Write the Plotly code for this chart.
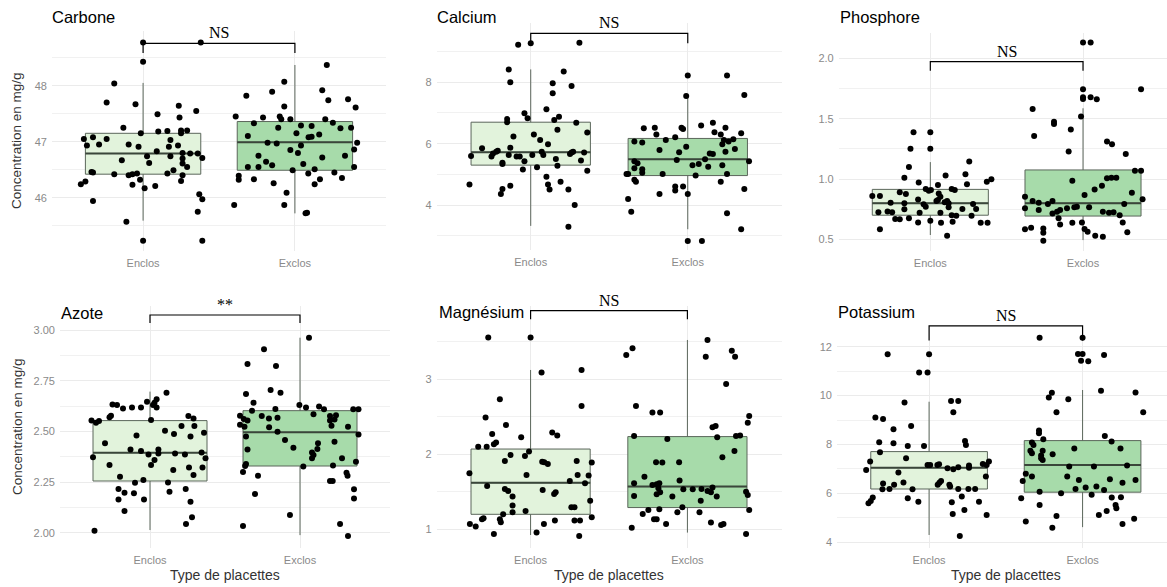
import plotly.graph_objects as go

# ---------------- DATA ----------------
categories = ["Enclos", "Exclos"]
panel_titles = ["Carbone", "Calcium", "Phosphore", "Azote", "Magnésium", "Potassium"]
sig_labels = ["NS", "NS", "NS", "**", "NS", "NS"]
bracket_y = [48.757, 9.597, 1.972, 3.074, 3.915, 12.85]
bracket_tip = [48.584, 9.27, 1.897, 3.035, 3.80, 12.25]

# box statistics [Enclos, Exclos]
carbone_q1 = [46.42, 46.49]; carbone_med = [46.79, 46.99]; carbone_q3 = [47.15, 47.36]
carbone_lo = [45.59, 45.72]; carbone_hi = [48.05, 48.37]
calcium_q1 = [5.30, 4.96]; calcium_med = [5.72, 5.49]; calcium_q3 = [6.70, 6.17]
calcium_lo = [3.32, 3.21]; calcium_hi = [8.42, 7.55]
phosphore_q1 = [0.70, 0.693]; phosphore_med = [0.80, 0.80]; phosphore_q3 = [0.914, 1.075]
phosphore_lo = [0.536, 0.494]; phosphore_hi = [1.14, 1.586]
azote_q1 = [2.255, 2.329]; azote_med = [2.395, 2.495]; azote_q3 = [2.553, 2.602]
azote_lo = [2.013, 1.988]; azote_hi = [2.696, 2.962]
magnesium_q1 = [1.2, 1.29]; magnesium_med = [1.62, 1.569]; magnesium_q3 = [2.07, 2.236]
magnesium_lo = [0.924, 0.956]; magnesium_hi = [3.124, 3.524]
potassium_q1 = [6.18, 6.05]; potassium_med = [7.05, 7.16]; potassium_q3 = [7.71, 8.16]
potassium_lo = [4.30, 4.62]; potassium_hi = [9.75, 10.23]

# jittered observations (value, horizontal jitter in category units)
carbone_enclos_y = [48.77,48.77,48.43,48.04,47.70,47.67,47.64,47.55,47.49,47.43,47.25,47.15,47.18,47.19,47.20,47.20,47.15,47.05,47.08,47.05,46.93,46.95,46.95,46.91,47.03,46.93,46.83,46.74,46.62,46.67,46.91,46.74,46.80,46.79,46.79,46.71,46.70,46.61,46.55,46.46,46.45,46.42,46.40,46.42,46.43,46.43,46.49,46.40,46.30,46.24,46.29,46.23,46.32,46.17,46.21,46.06,45.97,45.94,45.75,45.57,45.23,45.23]
carbone_enclos_jit = [0,0.38,0,-0.19,-0.24,-0.05,0.235,0.35,0.095,0.24,-0.13,-0.015,0.10,0.16,0.25,0.29,0.25,-0.39,-0.33,-0.24,-0.37,-0.29,-0.095,-0.03,0.18,0.23,0.09,0.026,0.04,-0.14,0.17,0.18,0.26,0.31,0.36,0.39,0.26,0.26,0.29,-0.34,-0.33,-0.19,-0.095,-0.07,-0.04,0.16,0.20,0.26,0.25,-0.41,-0.38,-0.07,-0.02,0.01,0.08,0.37,0.39,-0.33,0.36,-0.11,0,0.39]
carbone_exclos_y = [48.37,48.07,47.92,47.82,47.89,47.74,47.76,47.61,47.63,47.45,47.43,47.45,47.40,47.40,47.33,47.29,47.28,47.40,47.34,47.25,47.24,47.25,47.10,47.15,47.13,47.08,47.09,46.98,46.97,46.93,46.98,46.86,46.85,46.80,46.75,46.72,46.75,46.64,46.55,46.55,46.58,46.60,46.55,46.49,46.51,46.43,46.45,46.39,46.32,46.33,46.33,46.35,46.26,46.24,46.09,45.87,45.87,45.72,45.73]
carbone_exclos_jit = [0.21,-0.07,0.18,-0.32,-0.15,0.22,0.35,0.40,-0.07,-0.39,-0.21,-0.10,-0.09,-0.03,-0.27,0.04,0.11,0.20,0.25,0.37,0.30,-0.11,-0.31,0.01,0.16,0.09,0.11,-0.18,-0.12,0.04,0.41,0.39,-0.03,0.02,-0.24,0.18,0.33,-0.19,-0.31,-0.24,-0.15,0.055,0.39,-0.015,0.13,0.088,0.26,-0.37,-0.37,-0.27,0.165,0.31,-0.14,0.13,-0.055,-0.40,-0.07,0.07,0.08]

calcium_enclos_y = [9.22,9.27,9.29,8.42,8.35,8.00,7.97,7.88,7.64,7.12,6.99,6.80,6.70,6.83,6.77,6.88,6.68,6.45,6.23,6.30,6.36,6.12,5.98,5.85,5.87,5.74,5.68,5.58,5.77,5.63,5.60,5.58,5.58,5.74,5.63,5.63,5.71,5.74,5.66,5.71,5.50,5.43,5.45,5.38,5.34,5.16,5.23,5.28,5.12,4.92,4.67,4.63,4.67,4.76,4.52,4.36,4.51,4.51,4.00,3.29]
calcium_enclos_jit = [-0.08,0,0.31,-0.14,0.21,-0.13,0.14,0.26,0.14,0.10,-0.04,-0.15,-0.15,-0.02,0.15,0.18,0.29,0.17,-0.11,0.02,0.36,0.06,0.11,-0.31,-0.13,-0.22,-0.24,-0.25,-0.21,-0.14,-0.38,-0.09,-0.07,0.07,0.01,0.08,0.26,0.27,0.25,0.34,0.16,-0.04,0.32,-0.18,-0.18,-0.05,0.04,0.17,0.36,0.10,-0.39,-0.13,0.11,0.19,-0.18,-0.19,0.12,0.24,0.28,0.24]
calcium_exclos_y = [8.22,8.22,7.55,7.59,6.50,6.52,6.30,6.52,6.48,6.59,6.68,6.37,6.30,6.52,6.34,6.12,6.21,6.07,6.04,5.90,6.12,6.07,6.14,5.98,5.79,5.72,5.74,5.83,5.68,5.66,5.49,5.47,5.43,5.36,5.43,5.30,5.34,5.25,5.30,5.20,5.17,5.05,5.01,5.01,5.01,4.96,5.01,4.82,4.76,4.76,4.60,4.60,4.47,4.52,4.36,4.36,4.20,3.78,3.73,3.21,2.83,2.83]
calcium_exclos_jit = [0,0.25,-0.01,0.36,-0.28,-0.21,-0.20,-0.04,-0.03,0.085,0.16,0.17,0.21,0.24,0.34,-0.14,-0.08,-0.34,-0.29,-0.01,0.23,0.26,0.29,0.22,-0.18,-0.055,0.24,0.30,0.14,0.16,0.11,-0.07,-0.34,-0.32,0.39,0.03,0.07,0.13,0.22,-0.34,-0.29,-0.29,-0.39,-0.38,-0.16,0.05,0.25,-0.34,-0.33,0.21,-0.08,-0.03,-0.08,0.36,-0.18,0,-0.38,-0.36,0.25,0.34,0,0.09]

phosphore_enclos_y = [1.387,1.387,1.25,1.25,1.144,1.10,1.011,1.028,1.039,0.97,0.978,0.997,0.956,0.95,0.917,0.903,0.909,0.917,0.909,0.89,0.876,0.86,0.86,0.88,0.853,0.831,0.826,0.818,0.807,0.818,0.80,0.804,0.80,0.79,0.77,0.765,0.793,0.751,0.751,0.724,0.73,0.724,0.749,0.72,0.72,0.70,0.696,0.696,0.668,0.666,0.674,0.655,0.638,0.646,0.64,0.638,0.638,0.583,0.53]
phosphore_enclos_jit = [-0.11,0,-0.13,0,0.255,-0.14,-0.17,0.10,0.23,-0.076,0.37,0.40,0.24,0.05,-0.03,-0.01,0.004,0.14,0.16,-0.20,-0.16,-0.38,-0.33,0.055,0.066,-0.08,0.05,0.11,0.094,0.04,0.12,-0.26,-0.17,-0.044,-0.03,0.12,0.28,0.21,0.30,-0.34,-0.28,-0.25,-0.17,-0.07,0.066,0.14,0.17,0.27,-0.23,-0.20,-0.14,0,0.07,0.146,-0.08,0.33,0.375,-0.33,0.11]
phosphore_exclos_y = [2.13,2.13,1.743,1.743,1.677,1.663,1.677,1.66,1.58,1.517,1.475,1.456,1.41,1.356,1.31,1.287,1.227,1.207,1.069,1.069,1.006,1.011,1.011,0.986,0.945,0.914,0.887,0.867,0.853,0.832,0.818,0.804,0.818,0.793,0.793,0.757,0.743,0.729,0.743,0.757,0.765,0.771,0.765,0.715,0.729,0.72,0.724,0.70,0.674,0.624,0.638,0.64,0.64,0.583,0.597,0.59,0.586,0.564,0.558,0.555,0.53,0.522,0.489]
phosphore_exclos_jit = [0,0.05,0,0.38,0,0,0.05,0.09,-0.33,-0.013,-0.19,-0.19,-0.08,-0.32,0.157,0.19,-0.094,0.28,0.34,0.38,0.157,0.186,0.218,-0.07,0.124,0.076,0.32,0.01,-0.38,0.39,-0.33,-0.29,-0.20,-0.23,0.27,-0.38,-0.29,-0.17,-0.15,-0.105,-0.057,-0.04,0.04,-0.20,0.13,0.17,0.20,0.24,-0.16,-0.15,-0.07,-0.007,0.26,-0.38,-0.34,-0.26,0.01,0.03,0.29,-0.26,0.08,0.13,-0.26]

azote_enclos_y = [2.69,2.633,2.63,2.613,2.618,2.646,2.641,2.658,2.63,2.618,2.618,2.569,2.577,2.553,2.551,2.543,2.556,2.576,2.564,2.526,2.526,2.503,2.487,2.479,2.493,2.474,2.441,2.411,2.403,2.411,2.391,2.386,2.391,2.386,2.396,2.367,2.372,2.359,2.334,2.334,2.322,2.322,2.309,2.285,2.276,2.247,2.26,2.248,2.215,2.197,2.194,2.202,2.215,2.164,2.164,2.153,2.107,2.076,2.043,2.01]
azote_enclos_jit = [0.11,-0.25,-0.22,-0.18,-0.12,-0.02,0.03,0.044,0.02,0.044,-0.06,-0.27,-0.26,-0.39,-0.34,-0.36,0.007,0.256,0.29,0.21,0.296,0.10,0.16,-0.09,0.36,0.27,-0.30,-0.13,-0.06,0.056,0.056,-0.01,0.167,0.233,0.344,0.37,-0.38,0.03,0.007,-0.27,0.26,0.35,0.155,0.29,-0.2,-0.10,-0.044,0.12,-0.21,-0.17,-0.107,0.13,0.238,-0.21,-0.04,0.27,-0.17,0.28,0.24,-0.37]
azote_exclos_y = [2.962,2.905,2.832,2.822,2.704,2.691,2.684,2.641,2.63,2.618,2.622,2.609,2.61,2.602,2.609,2.609,2.576,2.564,2.567,2.584,2.576,2.58,2.559,2.577,2.561,2.553,2.523,2.553,2.528,2.52,2.498,2.533,2.523,2.474,2.485,2.457,2.441,2.411,2.413,2.396,2.419,2.383,2.367,2.367,2.449,2.326,2.331,2.339,2.329,2.35,2.30,2.281,2.255,2.255,2.296,2.281,2.191,2.214,2.169,2.087,2.043,2.033,1.984]
azote_exclos_jit = [0.06,-0.24,-0.35,-0.16,-0.196,-0.13,-0.36,-0.31,-0.004,0.04,0.127,0.16,-0.164,-0.32,0.355,0.39,-0.255,-0.207,-0.15,0.09,0.2,0.24,0.23,-0.4,-0.375,-0.35,-0.37,0.2,0.21,-0.206,-0.15,-0.4,0.32,-0.36,0.39,-0.1,0.12,-0.35,0.116,0.08,-0.044,0.09,0.08,0.28,0.23,0.022,0.22,-0.36,-0.366,0.373,-0.38,-0.28,0.2,0.218,0.31,0.317,-0.3,0.36,0.36,-0.067,0.267,-0.38,0.32]

magnesium_enclos_y = [3.556,3.556,3.089,3.124,2.733,2.644,2.489,2.391,2.271,2.289,2.249,2.156,2.133,2.227,2.102,2.102,2.036,1.978,1.991,1.911,1.902,1.893,1.871,1.911,1.889,1.724,1.747,1.724,1.716,1.644,1.578,1.613,1.538,1.511,1.524,1.493,1.471,1.436,1.382,1.316,1.293,1.293,1.244,1.227,1.2,1.147,1.133,1.16,1.133,1.093,1.071,1.116,1.116,1.116,1.071,1.036,0.956,0.938,0.911]
magnesium_enclos_jit = [-0.27,0,0.07,0.325,-0.196,0.325,-0.287,-0.157,-0.245,0.138,0.17,-0.22,-0.234,-0.06,-0.334,-0.28,-0.01,-0.036,-0.128,-0.164,0.074,0.087,0.11,0.294,0.39,-0.026,-0.39,0.3,0.37,0.25,-0.277,0.347,-0.164,-0.143,0.077,0.16,0.15,-0.115,0.38,-0.115,0.26,0.28,-0.032,-0.115,-0.175,-0.3,-0.31,0.39,-0.196,-0.19,0.085,0.155,0.28,0.315,-0.387,-0.35,0.038,-0.234,0.31]
magnesium_exclos_y = [3.524,3.324,3.413,3.302,3.382,3.302,2.938,2.644,2.556,2.556,2.511,2.422,2.36,2.378,2.244,2.249,2.244,2.227,2.204,1.96,2.044,1.893,1.889,1.893,1.702,1.649,1.613,1.591,1.6,1.613,1.547,1.493,1.467,1.533,1.533,1.538,1.511,1.493,1.556,1.502,1.458,1.444,1.436,1.436,1.382,1.258,1.204,1.267,1.293,1.227,1.227,1.133,1.133,1.071,1.258,1.089,1.058,1.071,1.022,0.938]
magnesium_exclos_jit = [0.128,-0.39,-0.35,0.117,0.283,0.304,0.247,-0.328,-0.223,-0.174,0.394,0.385,0.16,0.18,0.31,0.336,-0.34,0.19,-0.128,0.223,0.3,-0.2,-0.16,-0.053,-0.274,-0.05,-0.34,-0.223,-0.196,-0.179,-0.185,-0.174,-0.196,-0.026,0.034,0.09,0.128,0.15,0.16,0.374,0.385,-0.34,-0.096,0.187,0.085,-0.249,-0.285,-0.179,-0.032,-0.064,0.077,-0.213,-0.196,-0.136,0.394,0.15,0.215,0.23,-0.355,0.374]

potassium_enclos_y = [11.69,11.69,10.95,10.95,9.72,9.78,9.78,9.32,9.10,9.04,8.62,8.76,8.09,8.05,7.94,7.94,8.14,7.98,7.68,7.44,7.30,6.86,6.96,7.16,7.16,7.16,7.19,7.03,6.99,7.07,7.14,7.05,7.2,7.16,7.30,6.69,6.44,6.51,6.35,6.41,6.35,6.45,6.17,6.18,6.17,6.35,6.28,6.18,6.18,6.18,5.83,5.60,5.69,5.80,5.66,5.87,5.64,5.66,5.16,5.32,5.12,4.26]
potassium_enclos_jit = [0,-0.27,-0.065,-0.01,-0.16,0.143,0.19,0.158,-0.35,-0.3,-0.232,-0.117,-0.325,-0.232,-0.139,-0.033,0.234,0.24,-0.32,-0.15,-0.384,-0.2,-0.41,-0.01,0.007,0.054,0.065,0.12,0.158,0.19,0.26,0.26,0.35,0.375,0.39,0.37,0.067,0.078,0.056,-0.3,-0.228,-0.167,-0.304,-0.258,-0.108,0.132,0.137,0.19,0.256,0.3,-0.367,-0.395,-0.38,-0.139,-0.07,0.213,0.148,0.325,0.154,0.23,0.375,0.2]
potassium_exclos_y = [12.37,12.37,11.70,11.70,11.43,11.41,11.66,10.20,10.12,9.92,9.85,10.13,9.32,9.32,8.57,8.46,8.21,8.35,8.12,8.08,7.98,7.84,7.84,7.74,7.64,7.74,7.55,7.37,7.60,7.44,7.10,7.10,7.14,6.80,6.51,6.69,6.69,6.55,6.58,6.55,6.44,6.07,6.01,6.18,6.24,6.28,5.94,6.14,5.83,5.84,5.53,5.39,5.80,5.53,5.28,5.12,5.08,4.85,4.96,4.75,4.60]
potassium_exclos_jit = [-0.28,0,-0.03,0,-0.01,0.037,0.14,0.12,-0.2,-0.22,-0.093,0.345,0.395,-0.17,-0.284,-0.284,-0.256,0.145,0.189,-0.33,-0.32,-0.054,0.247,-0.34,-0.33,-0.26,-0.27,-0.26,-0.195,-0.27,-0.087,0.074,0.29,-0.37,-0.39,-0.33,-0.1,-0.024,0.178,0.345,0.26,-0.28,-0.14,-0.046,0.02,0.09,0.059,0.14,0.19,0.25,0.215,0.22,-0.4,-0.28,0.157,0.106,-0.17,-0.37,0.336,0.26,-0.197]

# ---------------- LAYOUT / STYLE ----------------
W, H = 1167, 587
fill_colors = ["#e2f3dc", "#a7dbaa"]
box_line = "#5b665b"
sans = "Liberation Sans, Arial, sans-serif"
tick_font = dict(family=sans, size=11, color="#8a8a8a")
grid_c = "#ebebeb"

panels = [
    dict(ey=carbone_enclos_y, ej=carbone_enclos_jit, xy=carbone_exclos_y, xj=carbone_exclos_jit,
         q1=carbone_q1, med=carbone_med, q3=carbone_q3, lo=carbone_lo, hi=carbone_hi,
         px=(52, 386), py=(31, 251), yr=(45.048, 48.977), xr=(0.4, 2.6), dtick=1, fmt="d", tx=50, ty=17),
    dict(ey=calcium_enclos_y, ej=calcium_enclos_jit, xy=calcium_exclos_y, xj=calcium_exclos_jit,
         q1=calcium_q1, med=calcium_med, q3=calcium_q3, lo=calcium_lo, hi=calcium_hi,
         px=(436.5, 782), py=(23, 250), yr=(2.534, 9.933), xr=(0.4, 2.6), dtick=2, fmt="d", tx=435, ty=17),
    dict(ey=phosphore_enclos_y, ej=phosphore_enclos_jit, xy=phosphore_exclos_y, xj=phosphore_exclos_jit,
         q1=phosphore_q1, med=phosphore_med, q3=phosphore_q3, lo=phosphore_lo, hi=phosphore_hi,
         px=(838.7, 1167), py=(33, 251), yr=(0.4035, 2.2096), xr=(0.4, 2.55), dtick=0.5, fmt=".1f", tx=838, ty=17),
    dict(ey=azote_enclos_y, ej=azote_enclos_jit, xy=azote_exclos_y, xj=azote_exclos_jit,
         q1=azote_q1, med=azote_med, q3=azote_q3, lo=azote_lo, hi=azote_hi,
         px=(60, 390), py=(306, 548), yr=(1.9245, 3.1184), xr=(0.4, 2.6), dtick=0.25, fmt=".2f", tx=59, ty=313),
    dict(ey=magnesium_enclos_y, ej=magnesium_enclos_jit, xy=magnesium_exclos_y, xj=magnesium_exclos_jit,
         q1=magnesium_q1, med=magnesium_med, q3=magnesium_q3, lo=magnesium_lo, hi=magnesium_hi,
         px=(436.5, 781.5), py=(306, 548), yr=(0.7507, 3.977), xr=(0.4, 2.6), dtick=1, fmt="d", tx=437, ty=312),
    dict(ey=potassium_enclos_y, ej=potassium_enclos_jit, xy=potassium_exclos_y, xj=potassium_exclos_jit,
         q1=potassium_q1, med=potassium_med, q3=potassium_q3, lo=potassium_lo, hi=potassium_hi,
         px=(837, 1167), py=(325, 548), yr=(3.767, 12.888), xr=(0.4, 2.55), dtick=2, fmt="d", tx=836, ty=312),
]

fig = go.Figure()
annotations = []
layout_axes = {}
box_w = 0.76

for i, p in enumerate(panels):
    n = i + 1
    xa = "x" if n == 1 else f"x{n}"
    ya = "y" if n == 1 else f"y{n}"
    # boxes
    for k in range(2):
        fig.add_trace(go.Box(
            x=[k + 1], q1=[p["q1"][k]], median=[p["med"][k]], q3=[p["q3"][k]],
            lowerfence=[p["lo"][k]], upperfence=[p["hi"][k]],
            width=box_w, whiskerwidth=0, fillcolor=fill_colors[k],
            line=dict(color=box_line, width=1), boxpoints=False,
            xaxis=xa, yaxis=ya, showlegend=False, hoverinfo="skip"))
        # thicker median, as in ggplot
        fig.add_trace(go.Scatter(
            x=[k + 1 - box_w / 2, k + 1 + box_w / 2], y=[p["med"][k], p["med"][k]],
            mode="lines", line=dict(color="#3a463a", width=2),
            xaxis=xa, yaxis=ya, showlegend=False, hoverinfo="skip"))
    # jittered points
    for k, (ys, js) in enumerate([(p["ey"], p["ej"]), (p["xy"], p["xj"])]):
        fig.add_trace(go.Scatter(
            x=[k + 1 + j for j, _ in zip(js, ys)], y=[v for _, v in zip(js, ys)],
            mode="markers", marker=dict(color="black", size=6),
            xaxis=xa, yaxis=ya, showlegend=False, hoverinfo="skip", cliponaxis=False))
    # significance bracket
    fig.add_trace(go.Scatter(
        x=[1, 1, 2, 2], y=[bracket_tip[i], bracket_y[i], bracket_y[i], bracket_tip[i]],
        mode="lines", line=dict(color="black", width=1.2),
        xaxis=xa, yaxis=ya, showlegend=False, hoverinfo="skip", cliponaxis=False))
    annotations.append(dict(
        x=1.5, y=bracket_y[i], xref=xa, yref=ya, text=sig_labels[i], showarrow=False,
        xanchor="center", yanchor="bottom", yshift=0,
        font=dict(family="Liberation Serif, Times New Roman, serif", size=16, color="black")))
    # panel title
    annotations.append(dict(
        x=p["tx"] / W, y=1 - p["ty"] / H, xref="paper", yref="paper", text=panel_titles[i],
        showarrow=False, xanchor="left", yanchor="middle",
        font=dict(family=sans, size=16.5, color="black")))

    key_x = "xaxis" if n == 1 else f"xaxis{n}"
    key_y = "yaxis" if n == 1 else f"yaxis{n}"
    layout_axes[key_x] = dict(
        domain=[p["px"][0] / W, p["px"][1] / W], range=list(p["xr"]), anchor=ya,
        tickmode="array", tickvals=[1, 2], ticktext=categories, tickfont=tick_font,
        showgrid=True, gridcolor=grid_c, gridwidth=1, zeroline=False, showline=False,
        ticks="", ticklabelstandoff=4, fixedrange=True)
    layout_axes[key_y] = dict(
        domain=[1 - p["py"][1] / H, 1 - p["py"][0] / H], range=list(p["yr"]), anchor=xa,
        dtick=p["dtick"], tick0=0, tickformat=p["fmt"], tickfont=tick_font,
        showgrid=True, gridcolor=grid_c, gridwidth=1, zeroline=False, showline=False,
        ticks="", ticklabelstandoff=4,
        minor=dict(dtick=p["dtick"] / 2, tick0=0, showgrid=True, gridcolor="#f1f1f1", gridwidth=1),
        fixedrange=True)

# y-axis titles (left column) and x-axis titles (bottom row)
for yc in [141, 427]:
    annotations.append(dict(
        x=17 / W, y=1 - yc / H, xref="paper", yref="paper", text="Concentration en mg/g",
        showarrow=False, textangle=-90, xanchor="center", yanchor="middle",
        font=dict(family=sans, size=13.5, color="#333333")))
for n in [4, 5, 6]:
    annotations.append(dict(
        x=1.5, y=1 - 575 / H, xref=f"x{n}", yref="paper", text="Type de placettes",
        showarrow=False, xanchor="center", yanchor="middle",
        font=dict(family=sans, size=14, color="#333333")))

fig.update_layout(
    width=W, height=H, margin=dict(l=0, r=0, t=0, b=0),
    paper_bgcolor="white", plot_bgcolor="white", boxmode="overlay",
    showlegend=False, annotations=annotations, **layout_axes)

fig.write_html("out.html", config=dict(displayModeBar=False))
